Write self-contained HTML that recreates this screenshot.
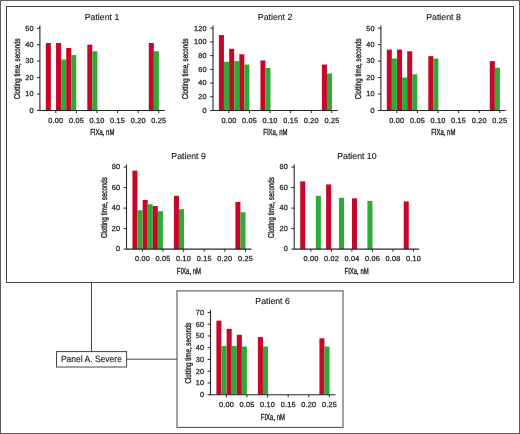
<!DOCTYPE html>
<html>
<head>
<meta charset="utf-8">
<title>Figure</title>
<style>
html,body{margin:0;padding:0;background:#fff;}
body{width:520px;height:434px;overflow:hidden;font-family:"Liberation Sans", sans-serif;}
svg{display:block;will-change:transform;}
text{text-rendering:geometricPrecision;font-family:"Liberation Sans", sans-serif;fill:#222;}
.tk{font-size:7.3px;letter-spacing:0.2px;stroke:#222;stroke-width:0.25px;}
.tt{font-size:8.75px;stroke:#222;stroke-width:0.15px;}
.al{font-size:8.8px;stroke:#222;stroke-width:0.35px;}
.yl{font-size:8.5px;stroke:#222;stroke-width:0.35px;}
.pl{font-size:9.1px;stroke:#222;stroke-width:0.15px;}
</style>
</head>
<body>
<svg width="520" height="434" viewBox="0 0 520 434">
<rect x="0" y="0" width="520" height="434" fill="#fff"/>
<rect x="0.5" y="0.5" width="519" height="433" fill="none" stroke="#5c5c5c" stroke-width="1"/>
<rect x="6.5" y="6.5" width="507" height="276" fill="none" stroke="#444" stroke-width="1"/>
<path d="M91.5 282.5 V351.6" stroke="#444" stroke-width="1" fill="none"/>
<path d="M126.6 359.2 H177" stroke="#444" stroke-width="1" fill="none"/>
<rect x="56.5" y="351.6" width="70.1" height="15.4" fill="#fff" stroke="#444" stroke-width="1"/>
<text x="91.4" y="362.0" text-anchor="middle" class="pl" textLength="61" lengthAdjust="spacingAndGlyphs">Panel A. Severe</text>
<rect x="177" y="290.9" width="166" height="136.5" fill="#fff" stroke="#444" stroke-width="1"/>
<rect x="45.8" y="43.01" width="5.05" height="67.49" fill="#c5072a"/>
<rect x="56.05" y="43.01" width="5.05" height="67.49" fill="#c5072a"/>
<rect x="61.1" y="59.47" width="5.05" height="51.03" fill="#2eab36"/>
<rect x="66.2" y="47.95" width="5.05" height="62.55" fill="#c5072a"/>
<rect x="71.25" y="55.03" width="5.05" height="55.47" fill="#2eab36"/>
<rect x="87.3" y="44.66" width="5.05" height="65.84" fill="#c5072a"/>
<rect x="92.35" y="51.24" width="5.05" height="59.26" fill="#2eab36"/>
<rect x="148.8" y="43.01" width="5.05" height="67.49" fill="#c5072a"/>
<rect x="153.85" y="51.24" width="5.05" height="59.26" fill="#2eab36"/>
<path d="M39.9 25.5 V110.5 H164.8" stroke="#262626" stroke-width="1.1" fill="none"/>
<path d="M37 110.5 H39.9" stroke="#262626" stroke-width="1"/>
<text x="33.7" y="112.85" text-anchor="end" class="tk">0</text>
<path d="M37 94.04 H39.9" stroke="#262626" stroke-width="1"/>
<text x="33.7" y="96.39" text-anchor="end" class="tk">10</text>
<path d="M37 77.58 H39.9" stroke="#262626" stroke-width="1"/>
<text x="33.7" y="79.93" text-anchor="end" class="tk">20</text>
<path d="M37 61.12 H39.9" stroke="#262626" stroke-width="1"/>
<text x="33.7" y="63.47" text-anchor="end" class="tk">30</text>
<path d="M37 44.66 H39.9" stroke="#262626" stroke-width="1"/>
<text x="33.7" y="47.01" text-anchor="end" class="tk">40</text>
<path d="M37 28.2 H39.9" stroke="#262626" stroke-width="1"/>
<text x="33.7" y="30.55" text-anchor="end" class="tk">50</text>
<path d="M55.8 110.5 V113.1" stroke="#262626" stroke-width="1"/>
<text x="55.8" y="122.6" text-anchor="middle" class="tk">0.00</text>
<path d="M76.4 110.5 V113.1" stroke="#262626" stroke-width="1"/>
<text x="76.4" y="122.6" text-anchor="middle" class="tk">0.05</text>
<path d="M97 110.5 V113.1" stroke="#262626" stroke-width="1"/>
<text x="97" y="122.6" text-anchor="middle" class="tk">0.10</text>
<path d="M117.6 110.5 V113.1" stroke="#262626" stroke-width="1"/>
<text x="117.6" y="122.6" text-anchor="middle" class="tk">0.15</text>
<path d="M138.2 110.5 V113.1" stroke="#262626" stroke-width="1"/>
<text x="138.2" y="122.6" text-anchor="middle" class="tk">0.20</text>
<path d="M158.8 110.5 V113.1" stroke="#262626" stroke-width="1"/>
<text x="158.8" y="122.6" text-anchor="middle" class="tk">0.25</text>
<text x="102" y="20.3" text-anchor="middle" class="tt">Patient 1</text>
<text x="102.3" y="135.3" text-anchor="middle" class="al" textLength="24.2" lengthAdjust="spacingAndGlyphs">FIXa, nM</text>
<text transform="translate(20 68.85) rotate(-90)" text-anchor="middle" class="yl" textLength="61" lengthAdjust="spacingAndGlyphs">Clotting time, seconds</text>
<rect x="218.9" y="35.06" width="5.05" height="75.44" fill="#c5072a"/>
<rect x="223.95" y="61.81" width="5.05" height="48.69" fill="#2eab36"/>
<rect x="229.15" y="48.78" width="5.05" height="61.72" fill="#c5072a"/>
<rect x="234.2" y="61.12" width="5.05" height="49.38" fill="#2eab36"/>
<rect x="239.3" y="54.26" width="5.05" height="56.24" fill="#c5072a"/>
<rect x="244.35" y="64.55" width="5.05" height="45.95" fill="#2eab36"/>
<rect x="260.4" y="60.43" width="5.05" height="50.07" fill="#c5072a"/>
<rect x="265.45" y="67.98" width="5.05" height="42.52" fill="#2eab36"/>
<rect x="321.9" y="64.55" width="5.05" height="45.95" fill="#c5072a"/>
<rect x="326.95" y="73.47" width="5.05" height="37.03" fill="#2eab36"/>
<path d="M213 25.5 V110.5 H337.9" stroke="#262626" stroke-width="1.1" fill="none"/>
<path d="M210.1 110.5 H213" stroke="#262626" stroke-width="1"/>
<text x="206.8" y="112.85" text-anchor="end" class="tk">0</text>
<path d="M210.1 96.78 H213" stroke="#262626" stroke-width="1"/>
<text x="206.8" y="99.13" text-anchor="end" class="tk">20</text>
<path d="M210.1 83.07 H213" stroke="#262626" stroke-width="1"/>
<text x="206.8" y="85.42" text-anchor="end" class="tk">40</text>
<path d="M210.1 69.35 H213" stroke="#262626" stroke-width="1"/>
<text x="206.8" y="71.7" text-anchor="end" class="tk">60</text>
<path d="M210.1 55.63 H213" stroke="#262626" stroke-width="1"/>
<text x="206.8" y="57.98" text-anchor="end" class="tk">80</text>
<path d="M210.1 41.92 H213" stroke="#262626" stroke-width="1"/>
<text x="206.8" y="44.27" text-anchor="end" class="tk">100</text>
<path d="M210.1 28.2 H213" stroke="#262626" stroke-width="1"/>
<text x="206.8" y="30.55" text-anchor="end" class="tk">120</text>
<path d="M228.9 110.5 V113.1" stroke="#262626" stroke-width="1"/>
<text x="228.9" y="122.6" text-anchor="middle" class="tk">0.00</text>
<path d="M249.5 110.5 V113.1" stroke="#262626" stroke-width="1"/>
<text x="249.5" y="122.6" text-anchor="middle" class="tk">0.05</text>
<path d="M270.1 110.5 V113.1" stroke="#262626" stroke-width="1"/>
<text x="270.1" y="122.6" text-anchor="middle" class="tk">0.10</text>
<path d="M290.7 110.5 V113.1" stroke="#262626" stroke-width="1"/>
<text x="290.7" y="122.6" text-anchor="middle" class="tk">0.15</text>
<path d="M311.3 110.5 V113.1" stroke="#262626" stroke-width="1"/>
<text x="311.3" y="122.6" text-anchor="middle" class="tk">0.20</text>
<path d="M331.9 110.5 V113.1" stroke="#262626" stroke-width="1"/>
<text x="331.9" y="122.6" text-anchor="middle" class="tk">0.25</text>
<text x="275.1" y="20.3" text-anchor="middle" class="tt">Patient 2</text>
<text x="275.4" y="135.3" text-anchor="middle" class="al" textLength="24.2" lengthAdjust="spacingAndGlyphs">FIXa, nM</text>
<text transform="translate(188.3 68.85) rotate(-90)" text-anchor="middle" class="yl" textLength="61" lengthAdjust="spacingAndGlyphs">Clotting time, seconds</text>
<rect x="386.8" y="49.6" width="5.05" height="60.9" fill="#c5072a"/>
<rect x="391.85" y="58.49" width="5.05" height="52.01" fill="#2eab36"/>
<rect x="397.05" y="49.6" width="5.05" height="60.9" fill="#c5072a"/>
<rect x="402.1" y="77.58" width="5.05" height="32.92" fill="#2eab36"/>
<rect x="407.2" y="51.24" width="5.05" height="59.26" fill="#c5072a"/>
<rect x="412.25" y="74.29" width="5.05" height="36.21" fill="#2eab36"/>
<rect x="428.3" y="56.18" width="5.05" height="54.32" fill="#c5072a"/>
<rect x="433.35" y="58.49" width="5.05" height="52.01" fill="#2eab36"/>
<rect x="489.8" y="61.12" width="5.05" height="49.38" fill="#c5072a"/>
<rect x="494.85" y="67.7" width="5.05" height="42.8" fill="#2eab36"/>
<path d="M380.9 25.5 V110.5 H505.8" stroke="#262626" stroke-width="1.1" fill="none"/>
<path d="M378 110.5 H380.9" stroke="#262626" stroke-width="1"/>
<text x="374.7" y="112.85" text-anchor="end" class="tk">0</text>
<path d="M378 94.04 H380.9" stroke="#262626" stroke-width="1"/>
<text x="374.7" y="96.39" text-anchor="end" class="tk">10</text>
<path d="M378 77.58 H380.9" stroke="#262626" stroke-width="1"/>
<text x="374.7" y="79.93" text-anchor="end" class="tk">20</text>
<path d="M378 61.12 H380.9" stroke="#262626" stroke-width="1"/>
<text x="374.7" y="63.47" text-anchor="end" class="tk">30</text>
<path d="M378 44.66 H380.9" stroke="#262626" stroke-width="1"/>
<text x="374.7" y="47.01" text-anchor="end" class="tk">40</text>
<path d="M378 28.2 H380.9" stroke="#262626" stroke-width="1"/>
<text x="374.7" y="30.55" text-anchor="end" class="tk">50</text>
<path d="M396.8 110.5 V113.1" stroke="#262626" stroke-width="1"/>
<text x="396.8" y="122.6" text-anchor="middle" class="tk">0.00</text>
<path d="M417.4 110.5 V113.1" stroke="#262626" stroke-width="1"/>
<text x="417.4" y="122.6" text-anchor="middle" class="tk">0.05</text>
<path d="M438 110.5 V113.1" stroke="#262626" stroke-width="1"/>
<text x="438" y="122.6" text-anchor="middle" class="tk">0.10</text>
<path d="M458.6 110.5 V113.1" stroke="#262626" stroke-width="1"/>
<text x="458.6" y="122.6" text-anchor="middle" class="tk">0.15</text>
<path d="M479.2 110.5 V113.1" stroke="#262626" stroke-width="1"/>
<text x="479.2" y="122.6" text-anchor="middle" class="tk">0.20</text>
<path d="M499.8 110.5 V113.1" stroke="#262626" stroke-width="1"/>
<text x="499.8" y="122.6" text-anchor="middle" class="tk">0.25</text>
<text x="443.5" y="20.3" text-anchor="middle" class="tt">Patient 8</text>
<text x="443.3" y="135.3" text-anchor="middle" class="al" textLength="24.2" lengthAdjust="spacingAndGlyphs">FIXa, nM</text>
<text transform="translate(361 68.85) rotate(-90)" text-anchor="middle" class="yl" textLength="61" lengthAdjust="spacingAndGlyphs">Clotting time, seconds</text>
<rect x="132.4" y="170.59" width="5.05" height="78.51" fill="#c5072a"/>
<rect x="137.45" y="210.15" width="5.05" height="38.95" fill="#2eab36"/>
<rect x="142.65" y="199.9" width="5.05" height="49.2" fill="#c5072a"/>
<rect x="147.7" y="204.2" width="5.05" height="44.89" fill="#2eab36"/>
<rect x="152.8" y="206.05" width="5.05" height="43.05" fill="#c5072a"/>
<rect x="157.85" y="211.18" width="5.05" height="37.92" fill="#2eab36"/>
<rect x="173.9" y="195.8" width="5.05" height="53.3" fill="#c5072a"/>
<rect x="178.95" y="209.12" width="5.05" height="39.97" fill="#2eab36"/>
<rect x="235.4" y="201.95" width="5.05" height="47.15" fill="#c5072a"/>
<rect x="240.45" y="212.2" width="5.05" height="36.9" fill="#2eab36"/>
<path d="M126.5 164.4 V249.1 H251.4" stroke="#262626" stroke-width="1.1" fill="none"/>
<path d="M123.6 249.1 H126.5" stroke="#262626" stroke-width="1"/>
<text x="120.3" y="251.45" text-anchor="end" class="tk">0</text>
<path d="M123.6 228.6 H126.5" stroke="#262626" stroke-width="1"/>
<text x="120.3" y="230.95" text-anchor="end" class="tk">20</text>
<path d="M123.6 208.1 H126.5" stroke="#262626" stroke-width="1"/>
<text x="120.3" y="210.45" text-anchor="end" class="tk">40</text>
<path d="M123.6 187.6 H126.5" stroke="#262626" stroke-width="1"/>
<text x="120.3" y="189.95" text-anchor="end" class="tk">60</text>
<path d="M123.6 167.1 H126.5" stroke="#262626" stroke-width="1"/>
<text x="120.3" y="169.45" text-anchor="end" class="tk">80</text>
<path d="M142.4 249.1 V251.7" stroke="#262626" stroke-width="1"/>
<text x="142.4" y="261.2" text-anchor="middle" class="tk">0.00</text>
<path d="M163 249.1 V251.7" stroke="#262626" stroke-width="1"/>
<text x="163" y="261.2" text-anchor="middle" class="tk">0.05</text>
<path d="M183.6 249.1 V251.7" stroke="#262626" stroke-width="1"/>
<text x="183.6" y="261.2" text-anchor="middle" class="tk">0.10</text>
<path d="M204.2 249.1 V251.7" stroke="#262626" stroke-width="1"/>
<text x="204.2" y="261.2" text-anchor="middle" class="tk">0.15</text>
<path d="M224.8 249.1 V251.7" stroke="#262626" stroke-width="1"/>
<text x="224.8" y="261.2" text-anchor="middle" class="tk">0.20</text>
<path d="M245.4 249.1 V251.7" stroke="#262626" stroke-width="1"/>
<text x="245.4" y="261.2" text-anchor="middle" class="tk">0.25</text>
<text x="188.6" y="158.8" text-anchor="middle" class="tt">Patient 9</text>
<text x="188.9" y="273.9" text-anchor="middle" class="al" textLength="24.2" lengthAdjust="spacingAndGlyphs">FIXa, nM</text>
<text transform="translate(106.6 207.6) rotate(-90)" text-anchor="middle" class="yl" textLength="61" lengthAdjust="spacingAndGlyphs">Clotting time, seconds</text>
<rect x="300.2" y="181.35" width="5.05" height="67.75" fill="#c5072a"/>
<rect x="315.8" y="195.8" width="5.05" height="53.3" fill="#2eab36"/>
<rect x="326.1" y="184.42" width="5.05" height="64.68" fill="#c5072a"/>
<rect x="339" y="197.85" width="5.05" height="51.25" fill="#2eab36"/>
<rect x="352" y="198.36" width="5.05" height="50.74" fill="#c5072a"/>
<rect x="367.4" y="200.93" width="5.05" height="48.17" fill="#2eab36"/>
<rect x="403.7" y="201.44" width="5.05" height="47.66" fill="#c5072a"/>
<path d="M294.2 164.4 V249.1 H419.1" stroke="#262626" stroke-width="1.1" fill="none"/>
<path d="M291.3 249.1 H294.2" stroke="#262626" stroke-width="1"/>
<text x="288" y="251.45" text-anchor="end" class="tk">0</text>
<path d="M291.3 228.6 H294.2" stroke="#262626" stroke-width="1"/>
<text x="288" y="230.95" text-anchor="end" class="tk">20</text>
<path d="M291.3 208.1 H294.2" stroke="#262626" stroke-width="1"/>
<text x="288" y="210.45" text-anchor="end" class="tk">40</text>
<path d="M291.3 187.6 H294.2" stroke="#262626" stroke-width="1"/>
<text x="288" y="189.95" text-anchor="end" class="tk">60</text>
<path d="M291.3 167.1 H294.2" stroke="#262626" stroke-width="1"/>
<text x="288" y="169.45" text-anchor="end" class="tk">80</text>
<path d="M310.9 249.1 V251.7" stroke="#262626" stroke-width="1"/>
<text x="310.9" y="261.2" text-anchor="middle" class="tk">0.00</text>
<path d="M331.4 249.1 V251.7" stroke="#262626" stroke-width="1"/>
<text x="331.4" y="261.2" text-anchor="middle" class="tk">0.02</text>
<path d="M351.9 249.1 V251.7" stroke="#262626" stroke-width="1"/>
<text x="351.9" y="261.2" text-anchor="middle" class="tk">0.04</text>
<path d="M372.4 249.1 V251.7" stroke="#262626" stroke-width="1"/>
<text x="372.4" y="261.2" text-anchor="middle" class="tk">0.06</text>
<path d="M392.9 249.1 V251.7" stroke="#262626" stroke-width="1"/>
<text x="392.9" y="261.2" text-anchor="middle" class="tk">0.08</text>
<path d="M413.4 249.1 V251.7" stroke="#262626" stroke-width="1"/>
<text x="413.4" y="261.2" text-anchor="middle" class="tk">0.10</text>
<text x="356.9" y="158.8" text-anchor="middle" class="tt">Patient 10</text>
<text x="356.6" y="273.9" text-anchor="middle" class="al" textLength="24.2" lengthAdjust="spacingAndGlyphs">FIXa, nM</text>
<text transform="translate(274.3 207.6) rotate(-90)" text-anchor="middle" class="yl" textLength="61" lengthAdjust="spacingAndGlyphs">Clotting time, seconds</text>
<rect x="216.4" y="320.63" width="5.05" height="74.07" fill="#c5072a"/>
<rect x="221.45" y="345.91" width="5.05" height="48.79" fill="#2eab36"/>
<rect x="226.65" y="328.86" width="5.05" height="65.84" fill="#c5072a"/>
<rect x="231.7" y="345.91" width="5.05" height="48.79" fill="#2eab36"/>
<rect x="236.8" y="334.74" width="5.05" height="59.96" fill="#c5072a"/>
<rect x="241.85" y="346.5" width="5.05" height="48.2" fill="#2eab36"/>
<rect x="257.9" y="337.09" width="5.05" height="57.61" fill="#c5072a"/>
<rect x="262.95" y="346.5" width="5.05" height="48.2" fill="#2eab36"/>
<rect x="319.4" y="338.27" width="5.05" height="56.43" fill="#c5072a"/>
<rect x="324.45" y="346.5" width="5.05" height="48.2" fill="#2eab36"/>
<path d="M210.5 309.7 V394.7 H335.4" stroke="#262626" stroke-width="1.1" fill="none"/>
<path d="M207.6 394.7 H210.5" stroke="#262626" stroke-width="1"/>
<text x="204.3" y="397.05" text-anchor="end" class="tk">0</text>
<path d="M207.6 382.94 H210.5" stroke="#262626" stroke-width="1"/>
<text x="204.3" y="385.29" text-anchor="end" class="tk">10</text>
<path d="M207.6 371.19 H210.5" stroke="#262626" stroke-width="1"/>
<text x="204.3" y="373.54" text-anchor="end" class="tk">20</text>
<path d="M207.6 359.43 H210.5" stroke="#262626" stroke-width="1"/>
<text x="204.3" y="361.78" text-anchor="end" class="tk">30</text>
<path d="M207.6 347.67 H210.5" stroke="#262626" stroke-width="1"/>
<text x="204.3" y="350.02" text-anchor="end" class="tk">40</text>
<path d="M207.6 335.91 H210.5" stroke="#262626" stroke-width="1"/>
<text x="204.3" y="338.26" text-anchor="end" class="tk">50</text>
<path d="M207.6 324.16 H210.5" stroke="#262626" stroke-width="1"/>
<text x="204.3" y="326.51" text-anchor="end" class="tk">60</text>
<path d="M207.6 312.4 H210.5" stroke="#262626" stroke-width="1"/>
<text x="204.3" y="314.75" text-anchor="end" class="tk">70</text>
<path d="M226.4 394.7 V397.3" stroke="#262626" stroke-width="1"/>
<text x="226.4" y="406.8" text-anchor="middle" class="tk">0.00</text>
<path d="M247 394.7 V397.3" stroke="#262626" stroke-width="1"/>
<text x="247" y="406.8" text-anchor="middle" class="tk">0.05</text>
<path d="M267.6 394.7 V397.3" stroke="#262626" stroke-width="1"/>
<text x="267.6" y="406.8" text-anchor="middle" class="tk">0.10</text>
<path d="M288.2 394.7 V397.3" stroke="#262626" stroke-width="1"/>
<text x="288.2" y="406.8" text-anchor="middle" class="tk">0.15</text>
<path d="M308.8 394.7 V397.3" stroke="#262626" stroke-width="1"/>
<text x="308.8" y="406.8" text-anchor="middle" class="tk">0.20</text>
<path d="M329.4 394.7 V397.3" stroke="#262626" stroke-width="1"/>
<text x="329.4" y="406.8" text-anchor="middle" class="tk">0.25</text>
<text x="272.6" y="304" text-anchor="middle" class="tt">Patient 6</text>
<text x="272.9" y="419.5" text-anchor="middle" class="al" textLength="24.2" lengthAdjust="spacingAndGlyphs">FIXa, nM</text>
<text transform="translate(190.6 353.05) rotate(-90)" text-anchor="middle" class="yl" textLength="61" lengthAdjust="spacingAndGlyphs">Clotting time, seconds</text>
</svg>
</body>
</html>
